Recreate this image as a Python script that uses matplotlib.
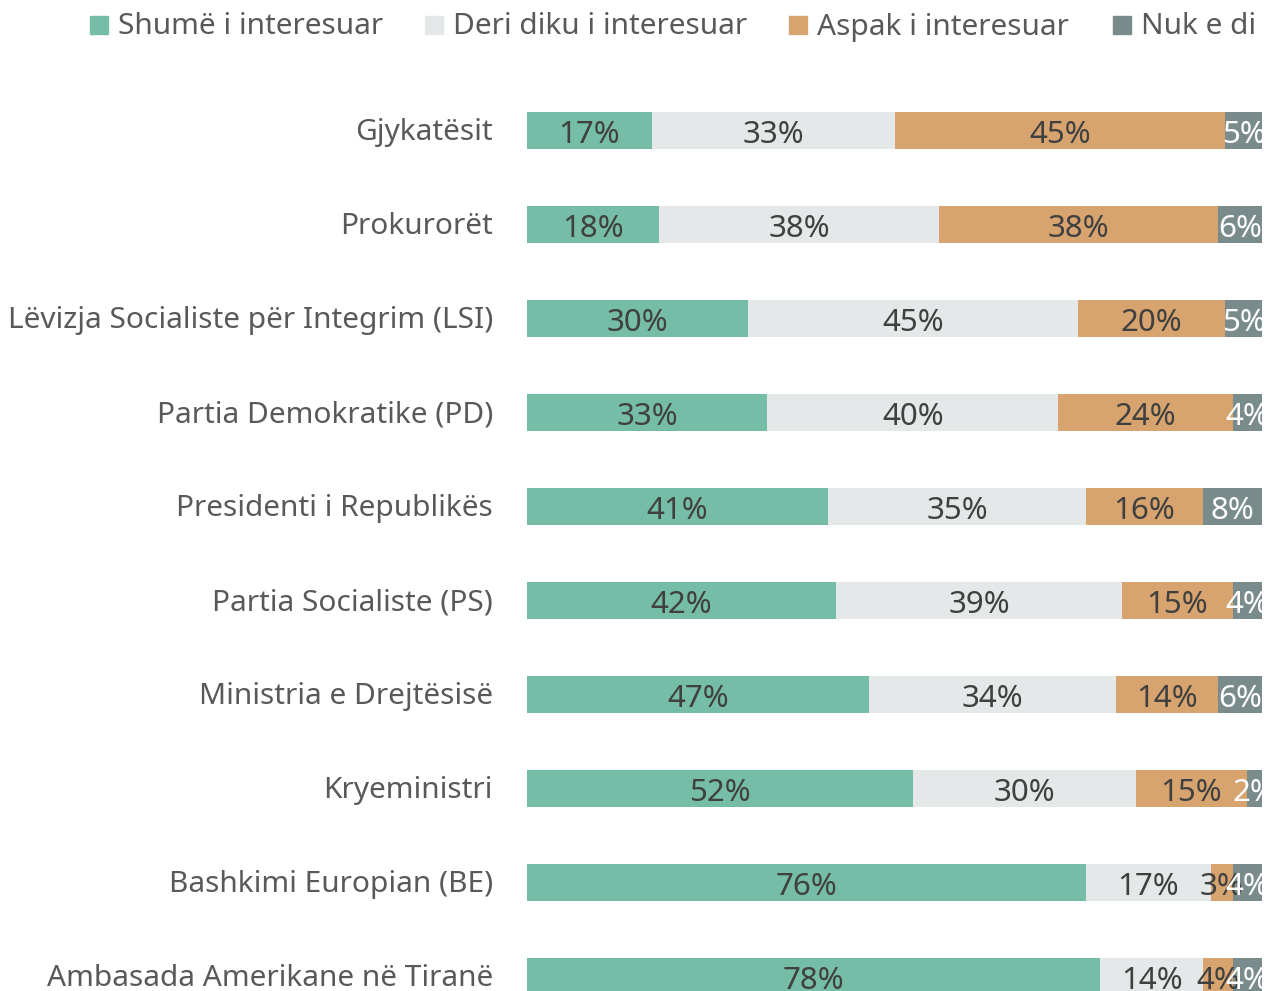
import matplotlib
matplotlib.use("Agg")
import matplotlib.pyplot as plt
from matplotlib.patches import Rectangle
import numpy as np

categories = ["Gjykatësit", "Prokurorët", "Lëvizja Socialiste për Integrim (LSI)",
              "Partia Demokratike (PD)", "Presidenti i Republikës", "Partia Socialiste (PS)",
              "Ministria e Drejtësisë", "Kryeministri", "Bashkimi Europian (BE)",
              "Ambasada Amerikane në Tiranë"]
series_names = ["Shumë i interesuar", "Deri diku i interesuar", "Aspak i interesuar", "Nuk e di"]
shume = [17, 18, 30, 33, 41, 42, 47, 52, 76, 78]
deri = [33, 38, 45, 40, 35, 39, 34, 30, 17, 14]
aspak = [45, 38, 20, 24, 16, 15, 14, 15, 3, 4]
nuk = [5, 6, 5, 4, 8, 4, 6, 2, 4, 4]

colors = ["#75BDA7", "#E4E8E8", "#D7A46F", "#7A8B8B"]
label_colors = ["#404040", "#404040", "#404040", "#FFFFFF"]
FONT = "Noto Sans"
plt.rcParams['font.family'] = [FONT, 'DejaVu Sans']

W, H = 1272, 991
fig = plt.figure(figsize=(W / 100, H / 100), dpi=100)

left_px, right_px = 527, 1262
top_px = 83
ax = fig.add_axes([left_px / W, 0, (right_px - left_px) / W, (H - top_px) / H])

data = np.array([shume, deri, aspak, nuk], dtype=float)
totals = data.sum(axis=0)
shares = data / totals * 100
y = np.arange(len(categories))
left = np.zeros(len(categories))
for i in range(4):
    ax.barh(y, shares[i], left=left, height=0.4, color=colors[i], linewidth=0)
    for j in range(len(categories)):
        cx = left[j] + shares[i][j] / 2
        ax.text(cx, y[j] + 0.05, f"{int(data[i][j])}%", ha="center", va="center",
                fontsize=22.5, color=label_colors[i], clip_on=False)
    left += shares[i]

ax.set_xlim(0, 100)
c_bar = 130.5
ax.set_ylim(9 + (H - (c_bar + 9 * 94)) / 94, -(c_bar - top_px) / 94)
ax.axis("off")

for j, c in enumerate(categories):
    ax.text(-34 / (right_px - left_px) * 100, y[j] + 0.025, c, ha="right", va="center",
            fontsize=21.5, color="#595959", clip_on=False)

# legend
leg_x = [90, 425, 789, 1113]
for i, name in enumerate(series_names):
    fig.patches.append(Rectangle(((leg_x[i]) / W, 1 - 34 / H), 18 / W, 18 / H,
                                 transform=fig.transFigure, color=colors[i], figure=fig))
    fig.text((leg_x[i] + 28) / W, 1 - 27 / H, name, ha="left", va="center",
             fontsize=21.5, color="#595959")

fig.savefig("out.png", dpi=100, facecolor="white")
